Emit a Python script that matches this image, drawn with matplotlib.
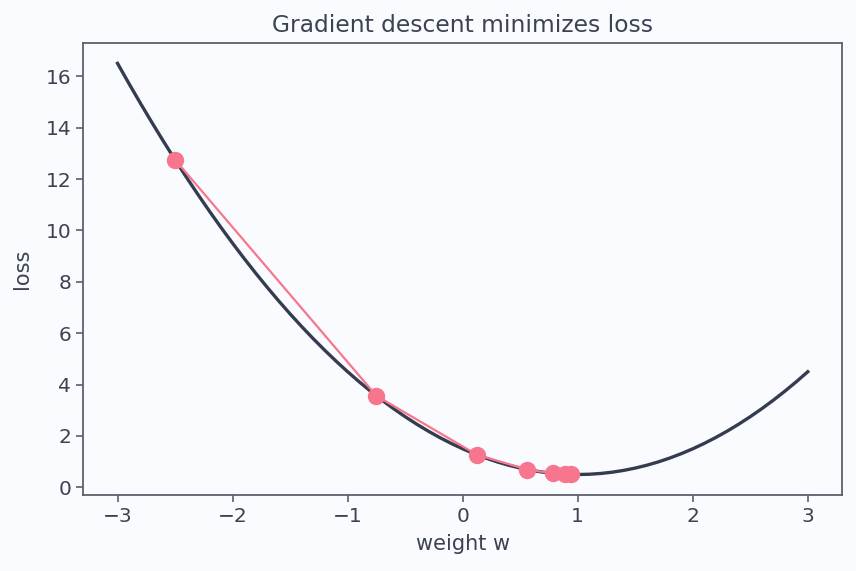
import matplotlib
matplotlib.use("Agg")
import matplotlib.pyplot as plt

# Loss curve samples
curve_w = [-3.0, -2.9, -2.8, -2.7, -2.6, -2.5, -2.4, -2.3, -2.2, -2.1, -2.0,
           -1.9, -1.8, -1.7, -1.6, -1.5, -1.4, -1.3, -1.2, -1.1, -1.0,
           -0.9, -0.8, -0.7, -0.6, -0.5, -0.4, -0.3, -0.2, -0.1, 0.0,
           0.1, 0.2, 0.3, 0.4, 0.5, 0.6, 0.7, 0.8, 0.9, 1.0,
           1.1, 1.2, 1.3, 1.4, 1.5, 1.6, 1.7, 1.8, 1.9, 2.0,
           2.1, 2.2, 2.3, 2.4, 2.5, 2.6, 2.7, 2.8, 2.9, 3.0]
curve_loss = [16.5, 15.71, 14.94, 14.19, 13.46, 12.75, 12.06, 11.39, 10.74, 10.11, 9.5,
              8.91, 8.34, 7.79, 7.26, 6.75, 6.26, 5.79, 5.34, 4.91, 4.5,
              4.11, 3.74, 3.39, 3.06, 2.75, 2.46, 2.19, 1.94, 1.71, 1.5,
              1.31, 1.14, 0.99, 0.86, 0.75, 0.66, 0.59, 0.54, 0.51, 0.5,
              0.51, 0.54, 0.59, 0.66, 0.75, 0.86, 0.99, 1.14, 1.31, 1.5,
              1.71, 1.94, 2.19, 2.46, 2.75, 3.06, 3.39, 3.74, 4.11, 4.5]

# Gradient descent steps
step_w = [-2.5, -0.75, 0.125, 0.5625, 0.78125, 0.890625, 0.9453125]
step_loss = [12.75, 3.5625, 1.2656, 0.6914, 0.5479, 0.5120, 0.5030]

bg = "#fafbfe"
text_c = "#3b4252"
spine_c = "#5c606c"

fig, ax = plt.subplots(figsize=(8.56, 5.71), dpi=100)
fig.patch.set_facecolor(bg)
ax.set_facecolor(bg)

ax.plot(curve_w, curve_loss, color="#343c4f", lw=2.4, zorder=2)
ax.plot(step_w, step_loss, color="#f7768e", lw=1.6, marker="o", markersize=11.5,
        zorder=3)

ax.set_title("Gradient descent minimizes loss", fontsize=16.8, color=text_c, pad=8)
ax.set_xlabel("weight w", fontsize=15, color=text_c, labelpad=6)
ax.set_ylabel("loss", fontsize=15, color=text_c, labelpad=10)
ax.set_xticks([-3, -2, -1, 0, 1, 2, 3])
ax.set_yticks([0, 2, 4, 6, 8, 10, 12, 14, 16])
ax.set_xlim(-3.3, 3.3)
ax.set_ylim(-0.3, 17.3)
ax.tick_params(colors=spine_c, labelcolor=text_c, labelsize=14.5, length=5, width=1.2)
for s in ax.spines.values():
    s.set_color(spine_c)
    s.set_linewidth(1.3)

fig.subplots_adjust(left=0.097, right=0.984, top=0.925, bottom=0.133)
fig.savefig("out.png", dpi=100, facecolor=bg)
